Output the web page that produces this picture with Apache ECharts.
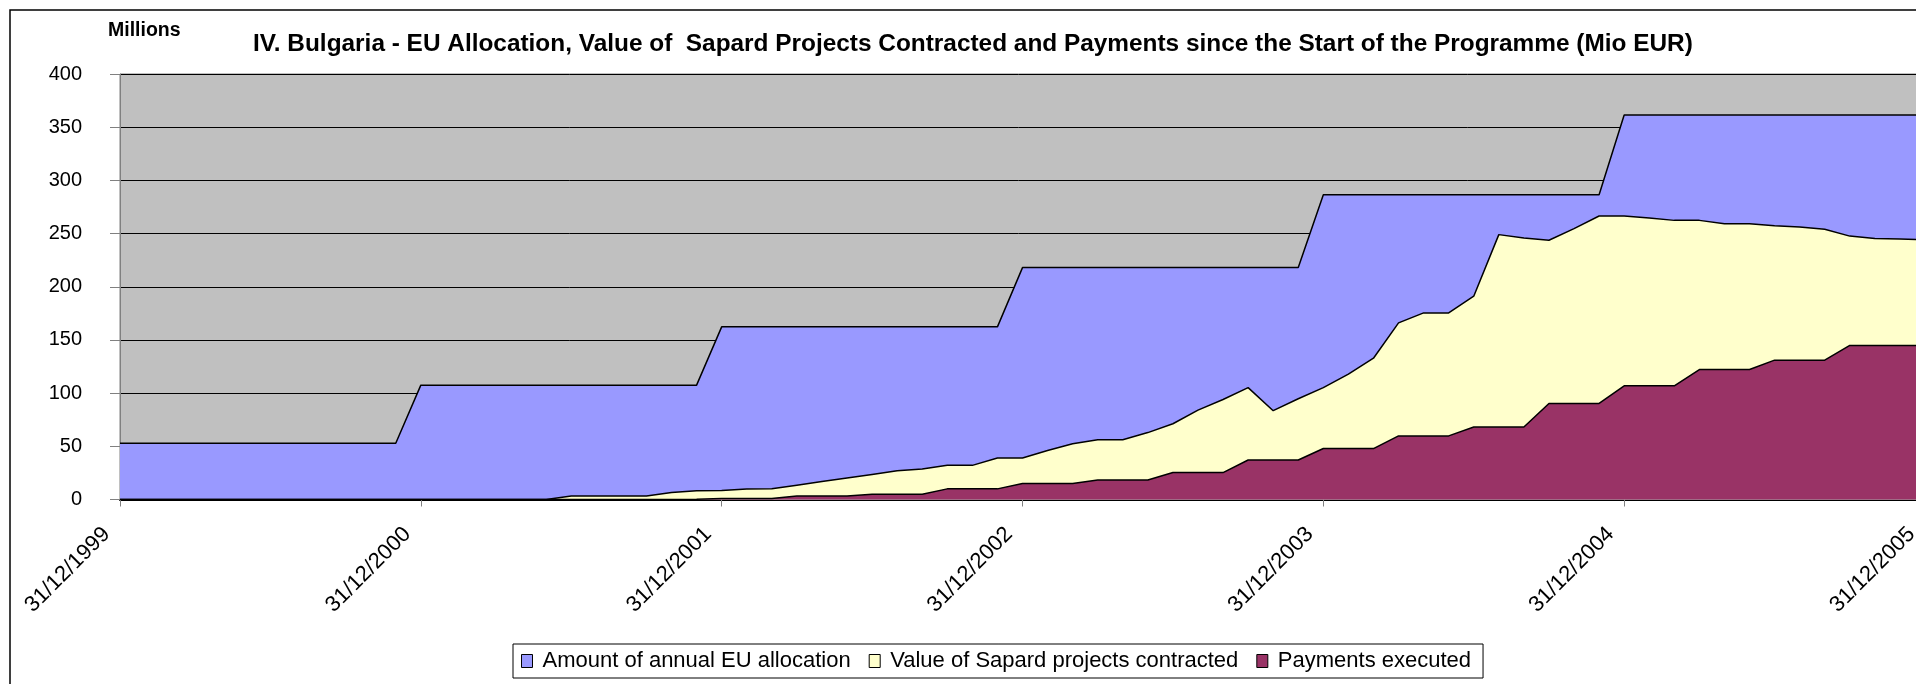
<!DOCTYPE html>
<html>
<head>
<meta charset="utf-8">
<script src="https://cdn.jsdelivr.net/npm/echarts@6/dist/echarts.min.js"></script>
<style>
  html, body { margin: 0; padding: 0; background: #fff; }
  #chart { width: 1916px; height: 684px; }
</style>
</head>
<body>
<div id="chart"></div>
<script>
// monthly points from 31/12/1999 to 31/12/2005 (Mio EUR)
const yearEnds = ['31/12/1999', '31/12/2000', '31/12/2001', '31/12/2002', '31/12/2003', '31/12/2004', '31/12/2005'];

const allocation = [
  52.9, 52.9, 52.9, 52.9, 52.9, 52.9, 52.9, 52.9, 52.9, 52.9, 52.9, 52.9,
  107.5, 107.5, 107.5, 107.5, 107.5, 107.5, 107.5, 107.5, 107.5, 107.5, 107.5, 107.5,
  162.3, 162.3, 162.3, 162.3, 162.3, 162.3, 162.3, 162.3, 162.3, 162.3, 162.3, 162.3,
  218, 218, 218, 218, 218, 218, 218, 218, 218, 218, 218, 218,
  286.5, 286.5, 286.5, 286.5, 286.5, 286.5, 286.5, 286.5, 286.5, 286.5, 286.5, 286.5,
  361.5, 361.5, 361.5, 361.5, 361.5, 361.5, 361.5, 361.5, 361.5, 361.5, 361.5, 361.5, 361.5
];

const contracted = [
  0, 0, 0, 0, 0, 0, 0, 0, 0, 0, 0, 0,
  0, 0, 0, 0, 0, 0, 3.3, 3.3, 3.3, 3.3, 6.5, 8.3,
  8.4, 9.9, 10.0, 13.5, 16.9, 20.2, 23.6, 27.0, 28.7, 32.1, 32.1, 39.0,
  39.0, 46.0, 52.5, 56.2, 56.2, 62.9, 71.2, 84.0, 94.0, 105.2, 83.5, 94.7,
  105.2, 117.8, 132.8, 166.0, 175.4, 175.4, 191.1, 249.0, 245.8, 243.7, 254.6, 266.5,
  266.5, 264.6, 262.4, 262.4, 259.3, 259.3, 257.4, 256.2, 254.0, 247.6, 245.3, 244.8, 244.2
];

const payments = [
  0, 0, 0, 0, 0, 0, 0, 0, 0, 0, 0, 0,
  0, 0, 0, 0, 0, 0, 0, 0, 0, 0, 0, 0.3,
  1.0, 1.0, 1.0, 3.3, 3.3, 3.3, 4.9, 4.9, 4.9, 10.0, 10.0, 10.0,
  15.0, 15.0, 15.0, 18.3, 18.3, 18.3, 25.3, 25.3, 25.3, 37.1, 37.1, 37.1,
  47.9, 47.9, 47.9, 59.8, 59.8, 59.8, 68.1, 68.1, 68.1, 90.3, 90.3, 90.3,
  106.9, 106.9, 106.9, 122.2, 122.2, 122.2, 131.0, 131.0, 131.0, 144.8, 144.8, 144.8, 144.8
];

// month-end categories, only the year ends get a label
const monthLast = [31, 28, 31, 30, 31, 30, 31, 31, 30, 31, 30, 31];
const pad = n => (n < 10 ? '0' : '') + n;
const months = [];
for (let i = 0; i < allocation.length; i++) {
  const m = (i + 11) % 12;
  const y = 1999 + Math.floor((i + 11) / 12);
  const d = (m === 1 && y % 4 === 0) ? 29 : monthLast[m];
  months.push(pad(d) + '/' + pad(m + 1) + '/' + y);
}

const font = 'Liberation Sans, Arial, sans-serif';
const chart = echarts.init(document.getElementById('chart'));

const area = (name, data, color) => ({
  name,
  type: 'line',
  data,
  showSymbol: false,
  symbol: 'none',
  itemStyle: {color},
  lineStyle: {color: '#000', width: 1.5},
  areaStyle: {color, opacity: 1},
  emphasis: {disabled: true}
});

chart.setOption({
  animation: false,
  textStyle: {fontFamily: font, color: '#000'},
  title: {
    text: 'IV. Bulgaria - EU Allocation, Value of  Sapard Projects Contracted and Payments since the Start of the Programme (Mio EUR)',
    left: 248,
    top: 27,
    textStyle: {fontSize: 24.4, fontWeight: 'bold', fontFamily: font, color: '#000'}
  },
  graphic: [
    {
      type: 'rect',
      shape: {x: 10, y: 10, width: 1920, height: 700},
      style: {fill: 'none', stroke: '#000', lineWidth: 1.5},
      silent: true
    },
    {
      type: 'text',
      left: 108,
      top: 21,
      style: {text: 'Millions', font: 'bold 19.5px ' + font, fill: '#000'}
    }
  ],
  legend: {
    left: 513,
    top: 644,
    padding: [6, 12, 6, 8],
    itemGap: 18,
    itemWidth: 11,
    itemHeight: 13,
    icon: 'rect',
    backgroundColor: '#fff',
    borderColor: '#000',
    borderWidth: 1,
    itemStyle: {borderColor: '#000', borderWidth: 1},
    textStyle: {fontSize: 22, fontFamily: font, color: '#000', padding: [0, 0, 0, 5]},
    data: ['Amount of annual EU allocation', 'Value of Sapard projects contracted', 'Payments executed']
  },
  grid: {
    left: 120,
    top: 74,
    right: -9,
    bottom: 184.5,
    show: true,
    backgroundColor: '#C0C0C0',
    borderColor: '#808080',
    borderWidth: 1,
    containLabel: false,
    outerBoundsMode: 'none'
  },
  xAxis: {
    type: 'category',
    data: months,
    boundaryGap: false,
    axisLine: {lineStyle: {color: '#000', width: 2}},
    axisTick: {interval: 11, length: 7, lineStyle: {color: '#808080'}},
    axisLabel: {
      interval: 11,
      rotate: 45,
      margin: 18,
      fontSize: 22,
      color: '#000',
      fontFamily: font,
      padding: [0, 19, 0, 0]
    },
    splitLine: {show: false}
  },
  yAxis: {
    type: 'value',
    min: 0,
    max: 400,
    interval: 50,
    axisLine: {show: true, lineStyle: {color: '#808080'}},
    axisTick: {show: true, length: 10, lineStyle: {color: '#808080'}},
    axisLabel: {margin: 38, fontSize: 20, color: '#000', fontFamily: font},
    splitLine: {lineStyle: {color: '#000', width: 1}}
  },
  series: [
    area('Amount of annual EU allocation', allocation, '#9999FF'),
    area('Value of Sapard projects contracted', contracted, '#FFFFCC'),
    area('Payments executed', payments, '#993366')
  ]
});
</script>
</body>
</html>
